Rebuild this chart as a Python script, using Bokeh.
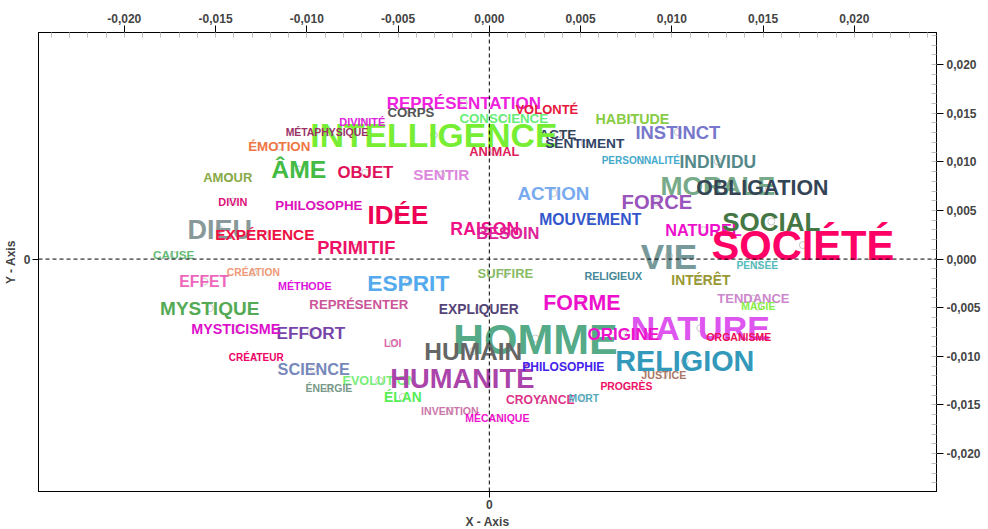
from bokeh.plotting import figure
from bokeh.models import (LinearAxis, FixedTicker, CustomJSTickFormatter, Span,
                          ColumnDataSource, Range1d)
from bokeh.core.properties import value
from bokeh.embed import file_html
from bokeh.resources import INLINE

words = ["ACTE", "NATUREL", "EVOLUTION", "HOMME", "SOCIÉTÉ", "VIE", "NATURE", "INTELLIGENCE",
         "RELIGION", "HUMANITÉ", "DIEU", "MORALE", "IDÉE", "SOCIAL", "ÂME", "HUMAIN", "ESPRIT",
         "FORME", "OBLIGATION", "FORCE", "MYSTIQUE", "ACTION", "INSTINCT", "PRIMITIF", "RAISON",
         "INDIVIDU", "EFFORT", "REPRÉSENTATION", "ORIGINE", "OBJET", "BESOIN", "SCIENCE", "EFFET",
         "MOUVEMENT", "EXPÉRIENCE", "SENTIR", "HABITUDE", "MYSTICISME", "INTÉRÊT", "EXPLIQUER",
         "ÉLAN", "SENTIMENT", "CONSCIENCE", "ÉMOTION", "PHILOSOPHE", "CORPS", "REPRÉSENTER",
         "VOLONTÉ", "AMOUR", "SUFFIRE", "TENDANCE", "ANIMAL", "CROYANCE", "PHILOSOPHIE", "CAUSE",
         "DIVINITÉ", "DIVIN", "RELIGIEUX", "MÉTHODE", "JUSTICE", "INVENTION", "ORGANISME",
         "MÉCANIQUE", "MÉTAPHYSIQUE", "MAGIE", "LOI", "ÉNERGIE", "PROGRÈS", "MORT", "PENSÉE",
         "CRÉATION", "PERSONNALITÉ", "CRÉATEUR"]

x_coord = [0.00375, 0.01173, -0.00603, 0.00252, 0.01718, 0.00984, 0.01156, -0.00304,
           0.01071, -0.00148, -0.01477, 0.01252, -0.00501, 0.01545, -0.01044, -0.00088, -0.00444,
           0.00507, 0.01496, 0.00918, -0.01532, 0.00351, 0.01033, -0.00729, -0.00025,
           0.01252, -0.00978, -0.00140, 0.00734, -0.00679, 0.00101, -0.00962, -0.01562,
           0.00553, -0.01230, -0.00263, 0.00784, -0.01389, 0.01159, -0.00058,
           -0.00474, 0.00523, 0.00079, -0.01151, -0.00934, -0.00430, -0.00715,
           0.00315, -0.01433, 0.00088, 0.01447, 0.00027, 0.00279, 0.00405, -0.01729,
           -0.00696, -0.01405, 0.00679, -0.01011, 0.00956, -0.00216, 0.01367,
           0.00044, -0.00890, 0.01474, -0.00529, -0.00879, 0.00751, 0.00518, 0.01468,
           -0.01293, 0.00830, -0.01277]

y_coord = [0.01280, 0.00298, -0.01249, -0.00817, 0.00144, 0.00031, -0.00710, 0.01275,
           -0.01049, -0.01229, 0.00303, 0.00756, 0.00452, 0.00386, 0.00920, -0.00946, -0.00242,
           -0.00447, 0.00730, 0.00586, -0.00504, 0.00679, 0.01306, 0.00118, 0.00308,
           0.01003, -0.00756, 0.01604, -0.00771, 0.00889, 0.00272, -0.01131, -0.00231,
           0.00406, 0.00257, 0.00869, 0.01440, -0.00720, -0.00216, -0.00514,
           -0.01419, 0.01188, 0.01445, 0.01157, 0.00550, 0.01506, -0.00468,
           0.01542, 0.00838, -0.00144, -0.00406, 0.01105, -0.01445, -0.01111, 0.00041,
           0.01409, 0.00591, -0.00170, -0.00272, -0.01188, -0.01558, -0.00797,
           -0.01635, 0.01301, -0.00488, -0.00869, -0.01332, -0.01311, -0.01434, -0.00067,
           -0.00139, 0.01013, -0.01013]

# word weights shown as font size (px)
weights = [13.7, 16.3, 12.6, 43, 41.7, 35, 34, 33.7,
           28.8, 27.3, 27, 26.5, 26, 26, 24.8, 24.5, 22.7,
           21.4, 21.3, 20.2, 19, 18.8, 18.4, 18.3, 17.7,
           17.5, 17.2, 17, 17, 16.8, 16.5, 16.3, 15.8,
           15.7, 15.4, 15.3, 14.3, 14.3, 13.8, 13.8,
           13.8, 13.7, 13.3, 13.3, 13.3, 13.2, 13.2,
           13, 13, 13, 13, 12.9, 12.2, 12, 11.8,
           10.9, 10.9, 10.7, 10.7, 10.7, 10.6, 10.5,
           10.5, 10.4, 10.4, 10.4, 10.4, 10.4, 10.4, 10.3,
           10.3, 10, 10]

colors = ["#334455", "#ee11cc", "#77ee77", "#55aa88", "#ff0066", "#779999", "#dd55ee", "#77ee33",
          "#3399bb", "#aa44aa", "#889999", "#77aa88", "#ee0055", "#447744", "#44bb44", "#666666", "#55aaee",
          "#ee11cc", "#334455", "#9955bb", "#55aa55", "#77aaee", "#7777cc", "#ee1166", "#ee1188",
          "#558888", "#7744aa", "#ee22dd", "#ee11cc", "#e0105a", "#dd2299", "#7788bb", "#ee66bb",
          "#3355cc", "#ee1144", "#dd88dd", "#88cc44", "#dd11cc", "#999933", "#554477",
          "#55ee55", "#334466", "#66ee77", "#ee7744", "#dd11bb", "#555555", "#cc5599",
          "#e8183c", "#88aa44", "#88bb66", "#cc88cc", "#e0205a", "#dd3388", "#4422ee", "#66bb77",
          "#e020e0", "#dd1177", "#448899", "#dd11dd", "#aa7766", "#cc77aa", "#ee1155",
          "#ee11cc", "#993366", "#88ee44", "#dd66aa", "#779988", "#ee1166", "#55aabb", "#55bbbb",
          "#ee9977", "#44aacc", "#ee0066"]

major_ticks = [-0.020, -0.015, -0.010, -0.005, 0.0, 0.005, 0.010, 0.015, 0.020]

src = ColumnDataSource(dict(x=x_coord, y=y_coord, word=words,
                            fs=[f"{w}px" for w in weights], color=colors))

p = figure(frame_width=898, frame_height=459,
           x_range=Range1d(-0.0247, 0.0245), y_range=Range1d(-0.0239, 0.0233),
           output_backend="svg", toolbar_location=None,
           min_border_left=26, min_border_right=46, min_border_top=32, min_border_bottom=30,
           background_fill_color="white", border_fill_color="white")
p.grid.visible = False
p.outline_line_color = "black"
p.outline_line_width = 1

label_font = "Liberation Sans"

# bottom / left axes: only the zero tick
for ax, lab in ((p.xaxis[0], "X - Axis"), (p.yaxis[0], "Y - Axis")):
    ax.ticker = FixedTicker(ticks=[0.0], minor_ticks=[])
    ax.major_tick_in = 0
    ax.major_tick_out = 6
    ax.major_label_standoff = 2
    ax.major_label_text_font = label_font
    ax.major_label_text_font_style = "bold"
    ax.major_label_text_font_size = "12px"
    ax.axis_label = lab
    ax.axis_label_text_font = label_font
    ax.axis_label_text_font_style = "bold"
    ax.axis_label_text_font_size = "12px"
    ax.axis_label_standoff = 3
    ax.axis_line_color = "black"

fmt = CustomJSTickFormatter(code="return tick.toFixed(3).replace('.', ',');")

top = LinearAxis(ticker=FixedTicker(ticks=major_ticks,
                                    minor_ticks=[round(i * 0.001, 3) for i in range(-24, 25)]),
                 formatter=fmt)
right = LinearAxis(ticker=FixedTicker(ticks=major_ticks,
                                      minor_ticks=[round(i * 0.001, 3) for i in range(-23, 24)]),
                   formatter=fmt)
for ax in (top, right):
    ax.major_tick_in = 0
    ax.major_tick_out = 7
    ax.minor_tick_in = 5
    ax.minor_tick_out = 0
    ax.minor_tick_line_color = "#c0c0c0"
    ax.major_label_standoff = 3
    ax.major_label_text_font = label_font
    ax.major_label_text_font_style = "bold"
    ax.major_label_text_font_size = "12px"
    ax.axis_line_color = "black"
p.add_layout(top, "above")
p.add_layout(right, "right")

p.scatter("x", "y", source=src, marker="circle", size=7, fill_color=None,
          line_color="#c8c8c8", line_width=1)
p.text("x", "y", text="word", source=src, text_font=value(label_font),
       text_font_style="bold", text_font_size="fs", text_color="color",
       text_align="center", text_baseline="middle")

p.add_layout(Span(location=0, dimension="height", line_color="black",
                  line_dash="4 3", line_width=1))
p.add_layout(Span(location=0, dimension="width", line_color="black",
                  line_dash="4 3", line_width=1))

open("out.html", "w").write(file_html(p, INLINE))
